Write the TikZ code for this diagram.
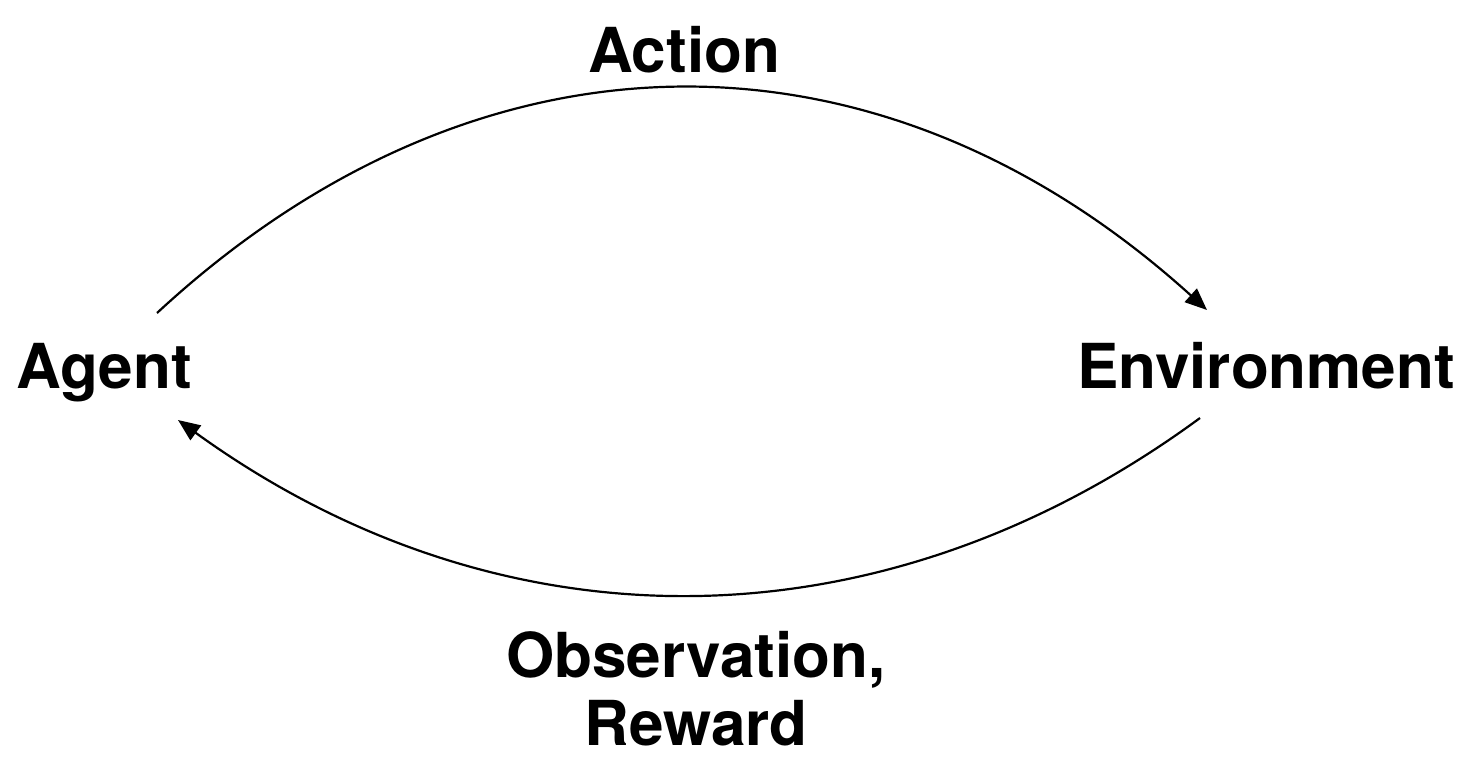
\documentclass[tikz,border=0pt]{standalone}
\usepackage{fontspec}
\setmainfont{TeX Gyre Heros}
\usetikzlibrary{arrows.meta}

\begin{document}
\begin{tikzpicture}[x = 0.5pt, y = -0.5pt, > = {Triangle[length=11pt, width=9pt]},
	label/.style = {font = \fontsize{31}{34}\selectfont\bfseries, inner sep = 0pt, anchor = base}]

	\useasboundingbox (0, 0) rectangle (1472, 777);

	\node [label] (agent) at (104, 388) {Agent};
	\node [label] (env) at (1266, 388) {Environment};
	\node [label] (action) at (684, 72) {Action};
	\node [label, align = center] (obs) at (696, 745) {Observation,\\Reward};

	\coordinate (agentout) at (157, 313);
	\coordinate (envin) at (1207, 310);
	\coordinate (envout) at (1200, 418);
	\coordinate (agentin) at (178, 420);

	\begin{scope}[->, line width = 1.1pt]
	
		\draw (agentout) .. controls (480, 14) and (880, 14) .. (envin);
		\draw (envout) .. controls (880, 653) and (500, 653) .. (agentin);
	
	\end{scope}

\end{tikzpicture}
\end{document}
